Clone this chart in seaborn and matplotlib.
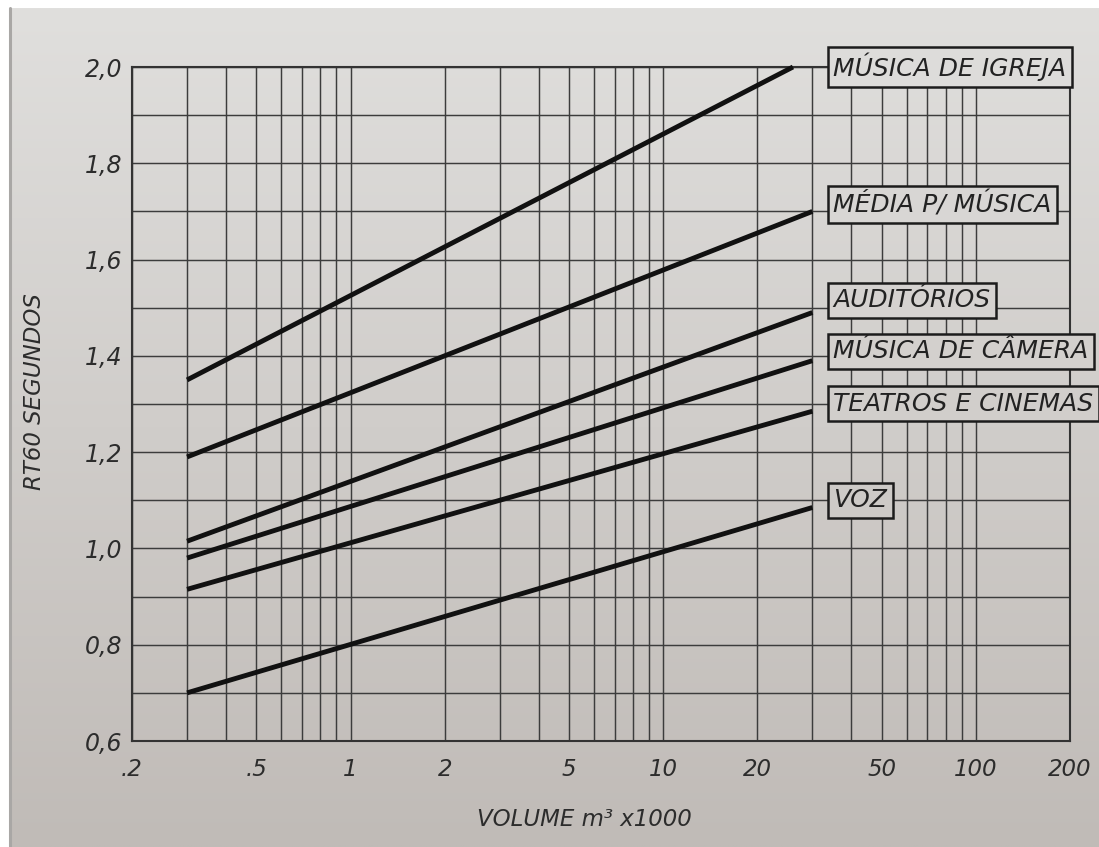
import numpy as np
import pandas as pd
import matplotlib
matplotlib.use("Agg")
import matplotlib.pyplot as plt
import seaborn as sns
from matplotlib.lines import Line2D

# Recommended reverberation time (RT60) as a function of room volume
categories = ["MÚSICA DE IGREJA", "MÉDIA P/ MÚSICA", "AUDITÓRIOS",
              "MÚSICA DE CÂMERA", "TEATROS E CINEMAS", "VOZ"]
vol_start = [0.3, 0.3, 0.3, 0.3, 0.3, 0.3]          # m³ x1000
vol_end = [26, 30, 30, 30, 30, 30]                   # m³ x1000
rt60_start = [1.35, 1.19, 1.015, 0.98, 0.915, 0.70]  # seconds
rt60_end = [2.0, 1.70, 1.49, 1.39, 1.285, 1.085]     # seconds

x_ticks = [0.2, 0.5, 1, 2, 5, 10, 20, 50, 100, 200]
x_tick_labels = [".2", ".5", "1", "2", "5", "10", "20", "50", "100", "200"]
y_ticks = [0.6, 0.8, 1.0, 1.2, 1.4, 1.6, 1.8, 2.0]
y_tick_labels = ["0,6", "0,8", "1,0", "1,2", "1,4", "1,6", "1,8", "2,0"]

# where the boxed category names sit (volume, RT60)
label_x = 35
label_y = [2.0, 1.715, 1.515, 1.41, 1.30, 1.10]

rows = []
for cat, x0, x1, y0, y1 in zip(categories, vol_start, vol_end, rt60_start, rt60_end):
    rows.append({"category": cat, "volume": x0, "rt60": y0})
    rows.append({"category": cat, "volume": x1, "rt60": y1})
df = pd.DataFrame(rows)

sns.set_theme(style="white")
plt.rcParams["font.family"] = ["DejaVu Sans"]

W, H = 1099, 847
fig = plt.figure(figsize=(W / 100, H / 100), dpi=100)
fig.patch.set_facecolor("white")

# paper tone behind the chart
top_rgb = np.array([224, 223, 221]) / 255
bot_rgb = np.array([192, 187, 183]) / 255


def paper(frac_from_top):
    return tuple(top_rgb + (bot_rgb - top_rgb) * frac_from_top)


grad = np.linspace(0, 1, 256)[:, None, None]
grad_img = top_rgb + (bot_rgb - top_rgb) * grad
grad_img = np.repeat(grad_img, 4, axis=1)
bg = fig.add_axes([9 / W, 0, 1 - 9 / W, 1 - 8 / H], zorder=-2)
bg.imshow(grad_img, aspect="auto", extent=[0, 1, 0, 1], origin="upper",
          interpolation="bilinear")
bg.set_axis_off()
fig.add_artist(Line2D([9.5 / W, 9.5 / W], [0, 1 - 8 / H], color="#a9a7a5",
                      lw=2.2, transform=fig.transFigure, zorder=-1))

ax_left, ax_right, ax_top, ax_bottom = 132, 1070, 67, 741
ax = fig.add_axes([ax_left / W, 1 - ax_bottom / H,
                   (ax_right - ax_left) / W, (ax_bottom - ax_top) / H])
ax.patch.set_alpha(0)

ax.set_xscale("log")
ax.set_xlim(0.2, 200)
ax.set_ylim(0.6, 2.0)

grid_x = [m * 10.0 ** e for e in (-1, 0, 1, 2) for m in range(1, 10)]
grid_x = [g for g in grid_x if 0.2 <= g <= 200]
grid_y = np.round(np.arange(0.6, 2.01, 0.1), 2)

ax.set_xticks(x_ticks, labels=x_tick_labels)
ax.set_xticks(grid_x, minor=True)
ax.xaxis.set_minor_formatter(matplotlib.ticker.NullFormatter())
ax.set_yticks(y_ticks, labels=y_tick_labels)
ax.set_yticks(grid_y, minor=True)

ink = "#2c2c2c"
ax.grid(True, which="both", axis="both", color="#3c3c3c", lw=1.05)
ax.set_axisbelow(True)
for s in ax.spines.values():
    s.set_visible(True)
    s.set_color("#333333")
    s.set_linewidth(1.5)

ax.tick_params(which="both", length=0)
ax.tick_params(axis="x", pad=12, labelsize=16.5, labelcolor=ink)
ax.tick_params(axis="y", pad=7, labelsize=17, labelcolor=ink)
for lbl in ax.get_xticklabels() + ax.get_yticklabels():
    lbl.set_fontstyle("italic")

sns.lineplot(data=df, x="volume", y="rt60", hue="category", units="category",
             estimator=None, sort=False, legend=False,
             palette={c: "#111111" for c in categories},
             linewidth=3.5, ax=ax)
for ln in ax.get_lines():
    ln.set_clip_on(False)
    ln.set_zorder(4)
    ln.set_solid_capstyle("butt")

for cat, ly in zip(categories, label_y):
    y_px = ax_bottom - (ly - 0.6) / 1.4 * (ax_bottom - ax_top)
    ax.text(label_x, ly, cat, ha="left", va="center", fontsize=18,
            fontstyle="italic", color="#222222", zorder=6, clip_on=False,
            bbox=dict(boxstyle="square,pad=0.22", fc=paper(y_px / H),
                      ec="#1c1c1c", lw=1.8))

ax.set_xlabel("VOLUME m³ x1000", fontsize=16.5, fontstyle="italic", color=ink)
ax.xaxis.label.set_va("center")
ax.xaxis.set_label_coords(0.482, -0.117)
ax.set_ylabel("RT60 SEGUNDOS", fontsize=16.5, fontstyle="italic", color=ink)
ax.yaxis.label.set_va("center")
ax.yaxis.set_label_coords(-0.104, 0.518)

fig.savefig("out.png", dpi=100)
